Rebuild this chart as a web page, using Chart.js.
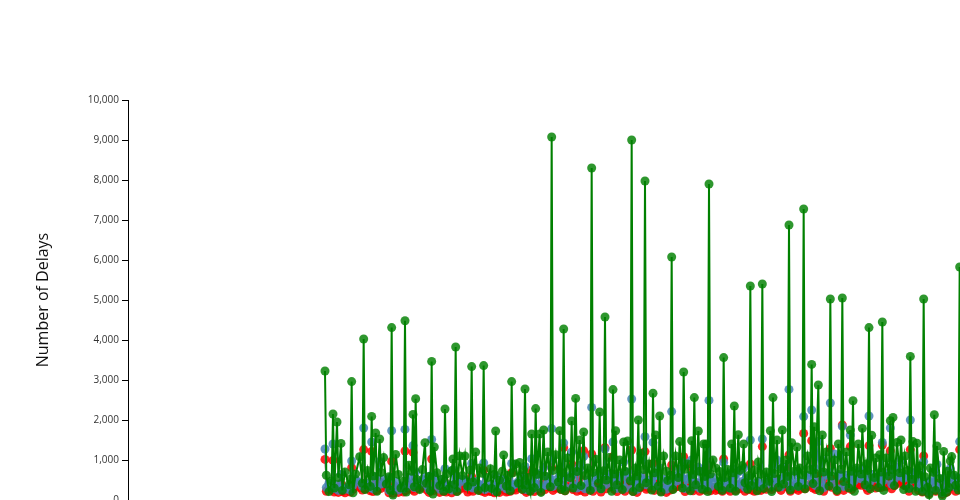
<!DOCTYPE html>
<html>
<head>
<meta charset="utf-8">
<style>
  html, body { margin: 0; padding: 0; background: #fff; overflow: hidden; }
  canvas { display: block; }
</style>
<script src="https://cdn.jsdelivr.net/npm/chart.js@4"></script>
</head>
<body>
<canvas id="delaysChart" width="1000" height="530"></canvas>
<script>
// Days since the first sample. Rows line up across the arrays.
const days = [
  0,1,3,5,6,7,9,10,12,13,
  15,18,19,20,21,23,26,28,29,30,
  32,34,35,36,38,39,41,42,44,46,
  48,49,50,51,53,55,57,59,60,61,
  63,65,66,67,68,69,71,73,75,76,
  78,79,80,81,82,84,86,88,89,90,
  91,93,95,96,97,98,99,101,103,105,
  107,109,110,111,113,115,116,118,119,120,
  122,124,125,127,128,129,131,133,134,136,
  137,139,140,141,143,145,146,148,149,150,
  151,152,154,155,156,157,158,159,161,162,
  164,165,167,169,170,171,173,175,176,177,
  178,179,180,182,184,185,186,188,189,191,
  192,194,195,197,199,200,201,203,205,206,
  207,209,210,211,213,215,216,217,218,219,
  221,223,224,225,227,229,230,231,233,234,
  235,236,237,239,240,241,243,245,246,247,
  248,250,251,252,254,256,257,259,260,261,
  263,265,266,268,269,270,272,274,275,276,
  277,278,280,281,283,284,285,286,287,288,
  289,291,293,295,296,298,299,300,302,304,
  305,306,307,308,310,311,313,314,315,317,
  318,319,320,322,324,325,327,328,329,331,
  333,334,335,336,337,339,340,342,343,344,
  346,347,348,349,350,352,354,355,356,358,
  359,360,362,364,365,366,367,368,370,371,
  373,374,376,378,379,380,382,384,385,387,
  388,389,391,393,394,395,396,397,399,400,
  402,403,405,406,407,408,409,410,412,413,
  415,416,417,418,419,421,423,424,425,426,
  427,429,431,432,434,435,437,438,439,440,
  441,443,444,445,446,448,449,450,452,453,
  454,456,457,458,459,461,463,464,466,467,
  468,469,470,472,473,475,476,477,480
];

const greenDelays = [
  3225,620,210,480,2150,300,1950,560,1415,240,
  700,380,520,2960,180,650,1080,420,4025,260,
  740,340,2090,600,1675,220,1525,690,1060,400,
  580,250,4310,125,1140,640,300,470,4480,200,
  870,720,2140,330,2530,510,260,760,1430,420,
  590,230,3465,150,1325,680,360,520,220,2275,
  650,280,730,1025,390,3825,210,1100,610,1100,
  340,750,3335,450,1200,240,800,670,3360,310,
  560,780,290,640,1725,200,500,720,1125,350,
  610,230,2960,680,900,420,940,270,750,2775,
  380,560,220,1650,700,310,2285,640,1650,190,
  1750,600,1200,330,9075,740,1130,450,1730,270,
  680,4275,230,1050,560,1975,300,2540,710,1500,
  360,1700,610,800,240,8300,690,1020,420,2200,
  280,730,4575,500,1060,220,2760,650,1730,380,
  1000,260,1450,720,1475,480,9000,210,800,600,
  2000,310,1160,760,7975,430,900,250,2670,680,
  1625,350,2100,200,1100,720,490,620,6075,260,
  1100,560,1460,300,3200,770,900,230,1480,640,
  2560,380,1725,720,270,1400,590,1400,210,7900,
  650,1000,800,340,710,240,3560,560,760,300,
  1400,680,2350,220,1630,740,860,1400,430,270,
  610,5350,360,750,230,950,640,5400,290,700,
  470,1730,210,2560,660,1500,320,780,1750,400,
  1000,590,6875,250,1430,720,1325,340,800,630,
  7275,280,1100,760,3390,410,1830,660,2875,230,
  1625,700,1200,350,5025,600,1000,240,1400,770,
  5050,460,1200,300,1750,720,2480,220,800,1400,
  650,1790,380,900,740,4310,280,1620,560,1050,
  310,1130,700,4450,240,1050,600,1980,760,2065,
  360,1440,680,1500,260,1100,740,290,3590,520,
  1460,220,1420,650,850,210,5025,580,320,130,
  800,690,2130,240,1350,540,100,1215,190,720,
  310,975,1085,620,370,250,5825,540,700
];

const blueDelays = [
  1275,310,420,350,1400,290,380,240,640,300,
  270,330,240,975,370,510,450,340,1800,390,
  420,310,1450,280,580,340,965,400,520,430,
  240,560,1730,270,460,250,350,280,1765,330,
  560,380,1360,310,700,420,420,510,560,370,
  260,600,1515,360,610,430,270,520,310,780,
  280,380,250,750,340,620,300,440,520,490,
  330,350,915,300,460,390,390,310,925,260,
  340,290,400,240,600,320,330,510,500,280,
  390,300,915,370,400,460,430,600,350,840,
  260,380,330,1030,450,290,640,380,660,310,
  810,360,580,470,1785,340,500,430,620,370,
  510,1425,320,560,610,1200,370,720,300,860,
  340,1085,280,500,430,2315,300,600,530,700,
  280,600,1275,390,640,560,1450,370,600,290,
  540,620,950,300,700,520,2525,310,480,270,
  640,430,560,490,1580,380,500,460,1440,340,
  660,600,800,310,520,270,450,350,2210,400,
  600,480,760,560,940,290,520,610,1000,330,
  780,450,820,300,420,700,350,560,480,2490,
  330,560,430,370,420,310,940,460,450,300,
  680,410,760,340,700,390,460,800,310,420,
  550,1500,360,380,440,470,340,1525,410,430,
  480,560,360,850,510,1000,440,330,820,500,
  640,460,2765,310,600,390,720,340,480,420,
  2085,390,620,580,2250,420,800,360,1460,470,
  1000,310,620,690,2425,450,1150,290,640,600,
  1840,340,620,560,1625,370,760,480,620,700,
  530,780,600,500,340,2100,470,640,560,560,
  520,600,430,1440,490,620,690,1800,400,900,
  520,820,600,1000,540,640,580,300,2000,510,
  680,620,720,330,500,270,960,390,420,200,
  480,440,700,300,890,380,180,540,260,320,
  500,790,620,470,330,560,1460,350,500
];

const redDelays = [
  1015,220,290,250,990,200,270,190,410,210,
  180,230,200,810,270,350,310,250,1260,280,
  320,230,1215,210,390,240,450,290,360,310,
  180,380,965,170,330,190,250,200,1225,240,
  380,270,1190,220,360,300,290,370,310,260,
  190,400,1025,230,350,310,190,360,220,430,
  200,260,180,290,240,380,220,270,360,300,
  200,250,585,220,300,280,240,220,750,190,
  230,210,210,180,270,230,190,360,260,200,
  220,220,680,260,250,320,300,410,250,620,
  190,230,240,750,320,210,360,270,380,220,
  400,260,330,330,810,240,300,300,340,260,
  360,1310,230,320,420,900,260,400,220,560,
  240,1230,200,300,300,1150,220,360,370,420,
  200,410,1310,280,370,390,1085,260,340,210,
  310,430,500,220,380,360,1250,220,280,190,
  360,300,330,340,1210,270,290,320,915,240,
  340,420,420,220,280,190,250,250,875,280,
  330,340,400,390,1080,210,290,430,800,230,
  430,320,420,220,300,360,250,320,340,860,
  230,310,240,260,260,220,1025,320,270,220,
  330,290,390,240,380,280,320,420,220,270,
  380,900,250,220,310,250,240,1335,290,270,
  340,320,260,440,360,520,310,240,400,350,
  340,320,1125,220,350,280,380,240,290,300,
  1665,280,340,400,1480,300,420,260,600,330,
  520,220,340,480,1290,320,520,210,350,420,
  1875,240,320,390,1335,260,400,340,430,380,
  370,420,420,310,240,1360,330,370,390,300,
  360,330,310,1375,340,340,480,1230,280,480,
  360,450,420,520,380,360,400,220,1260,360,
  400,430,410,240,300,200,1100,280,280,160,
  300,310,380,220,420,250,140,330,190,210,
  350,400,340,330,220,390,1260,250,300
];

const toPoints = (values) => values.map((v, i) => ({ x: days[i], y: v }));

// Red sits at the bottom, green on top
const delaysData = {
  datasets: [
    {
      label: 'Red',
      data: toPoints(redDelays),
      order: 3,
      borderWidth: 1,
      borderColor: '#ff0000',
      backgroundColor: 'rgba(255,0,0,0.85)'
    },
    {
      label: 'Blue',
      data: toPoints(blueDelays),
      order: 2,
      borderWidth: 1.5,
      borderColor: '#4682b4',
      backgroundColor: 'rgba(70,130,180,0.85)'
    },
    {
      label: 'Green',
      data: toPoints(greenDelays),
      order: 1,
      borderWidth: 2,
      borderColor: '#008000',
      backgroundColor: 'rgba(0,128,0,0.82)'
    }
  ]
};

const delaysConfig = {
  type: 'line',
  data: delaysData,
  options: {
    responsive: false,
    animation: false,
    layout: { autoPadding: false, padding: { top: 100, bottom: 30, left: 0, right: 0 } },
    datasets: {
      line: { clip: false, tension: 0, pointRadius: 4.5, pointBorderWidth: 0, fill: false }
    },
    plugins: {
      legend: { display: false },
      tooltip: { enabled: false }
    },
    scales: {
      x: {
        type: 'linear',
        display: false,
        min: -147.75,
        max: 506.25
      },
      y: {
        min: 0,
        max: 10000,
        afterFit(scale) { scale.width = 128; },  // Axis line sits at x=128
        border: { display: true, color: '#000', width: 1 },
        grid: { display: true, drawOnChartArea: false, drawTicks: true, tickLength: 6, tickColor: '#000', tickWidth: 1 },
        ticks: {
          stepSize: 1000,
          autoSkip: false,
          padding: 3,
          color: '#333',
          font: { family: '"Open Sans"', size: 10 },
          callback: (v) => v.toLocaleString('en-US')
        },
        title: {
          display: true,
          text: 'Number of Delays',
          color: '#111',
          font: { family: '"Open Sans"', size: 16 },
          padding: { top: 34, bottom: 0 }
        }
      }
    }
  }
};

const delaysChart = new Chart(document.getElementById('delaysChart'), delaysConfig);
</script>
</body>
</html>
